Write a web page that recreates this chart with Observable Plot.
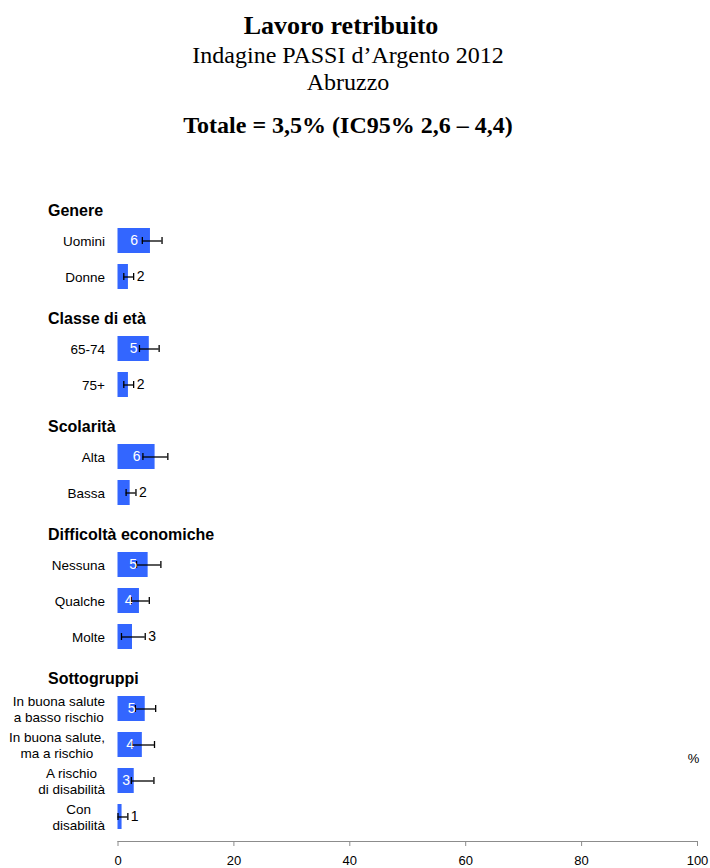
<!DOCTYPE html>
<html>
<head>
<meta charset="utf-8">
<script src="https://cdn.jsdelivr.net/npm/d3@7"></script>
<script src="https://cdn.jsdelivr.net/npm/@observablehq/plot@0.6"></script>
<style>
  html, body { margin: 0; padding: 0; background: #fff; }
  #titles { position: relative; width: 710px; height: 150px; font-family: "Liberation Serif", "Times New Roman", serif; color: #000; }
  #titles div { position: absolute; left: 0; width: 696px; text-align: center; line-height: 1; white-space: nowrap; }
  #t1 { top: 13px; font-size: 26px; font-weight: bold; width: 682px !important; }
  #t2 { top: 43px; font-size: 24px; }
  #t3 { top: 70px; font-size: 24px; }
  #t4 { top: 113px; font-size: 24px; font-weight: bold; }
  #chart svg { display: block; }
</style>
</head>
<body>
<div id="titles">
  <div id="t1">Lavoro retribuito</div>
  <div id="t2">Indagine PASSI d’Argento 2012</div>
  <div id="t3">Abruzzo</div>
  <div id="t4">Totale = 3,5% (IC95% 2,6 – 4,4)</div>
</div>
<div id="chart"></div>
<script>
// Row order of the chart (group headers and categories)
const rowOrder = [
  "Genere", "Uomini", "Donne",
  "Classe di età", "65-74", "75+",
  "Scolarità", "Alta", "Bassa",
  "Difficoltà economiche", "Nessuna", "Qualche", "Molte",
  "Sottogruppi",
  "In buona salute\na basso rischio",
  "In buona salute,\nma a rischio",
  "A rischio\ndi disabilità",
  "Con\ndisabilità"
];
const headers = ["Genere", "Classe di età", "Scolarità", "Difficoltà economiche", "Sottogruppi"];
const categories = [
  "Uomini", "Donne", "65-74", "75+", "Alta", "Bassa",
  "Nessuna", "Qualche", "Molte",
  "In buona salute\na basso rischio",
  "In buona salute,\nma a rischio",
  "A rischio\ndi disabilità",
  "Con\ndisabilità"
];
const values = [5.6, 1.8, 5.4, 1.8, 6.4, 2.1, 5.2, 3.7, 2.5, 4.7, 4.2, 2.8, 0.7];
const lower  = [4.2, 1.0, 3.7, 1.0, 4.3, 1.4, 3.2, 2.3, 0.6, 3.0, 2.4, 2.3, 0.0];
const upper  = [7.6, 2.7, 7.1, 2.7, 8.6, 3.1, 7.4, 5.4, 4.7, 6.5, 6.3, 6.2, 1.7];
const xTicks = [0, 20, 40, 60, 80, 100];
const unitLabel = "%";

const data = categories.map((c, i) => ({
  key: c, value: values[i], lo: lower[i], hi: upper[i], label: String(Math.round(values[i]))
}));
const inside = data.filter(d => d.value >= 2.8);
const outside = data.filter(d => d.value < 2.8);

const plot = Plot.plot({
  width: 710,
  height: 718,
  marginLeft: 117.5,
  marginRight: 13,
  marginTop: 29,
  marginBottom: 27,
  style: { fontFamily: "Liberation Sans, Arial, sans-serif", fontSize: "13px", color: "#000", overflow: "visible", background: "#fff" },
  x: { domain: [0, 100], axis: null },
  y: { domain: rowOrder, axis: null, paddingInner: 0.31, paddingOuter: 0.29 },
  marks: [
    Plot.frame({ anchor: "bottom", stroke: "#8c8c8c", strokeWidth: 1 }),
    Plot.axisX({ ticks: xTicks, tickSize: 5, tickPadding: 9, stroke: "#8c8c8c", fill: "#000", fontSize: 13, tickFormat: d => String(d) }),
    Plot.barX(data, { x: "value", y: "key", fill: "#3366ff" }),
    Plot.ruleY(data, { y: "key", x1: "lo", x2: "hi", stroke: "#000", strokeWidth: 1.3 }),
    Plot.tickX(data, { x: "lo", y: "key", stroke: "#000", strokeWidth: 1.3, insetTop: 9, insetBottom: 9 }),
    Plot.tickX(data, { x: "hi", y: "key", stroke: "#000", strokeWidth: 1.3, insetTop: 9, insetBottom: 9 }),
    Plot.text(inside, { x: d => d.value / 2, y: "key", text: "label", fill: "#fff", fontSize: 14 }),
    Plot.text(outside, { x: "hi", y: "key", text: "label", fill: "#000", fontSize: 14, textAnchor: "start", dx: 3 }),
    Plot.text(data, { y: "key", text: "key", frameAnchor: "left", textAnchor: "end", dx: -13, fontSize: 13.5, lineHeight: 1.18, fill: "#000" }),
    Plot.text(headers, { y: d => d, text: d => d, frameAnchor: "left", textAnchor: "start", dx: -70, dy: 6, fontSize: 16, fontWeight: "bold", fill: "#000" }),
    Plot.text([unitLabel], { text: d => d, frameAnchor: "bottom-right", textAnchor: "middle", dx: -4, dy: -79, fontSize: 13, fill: "#000" })
  ]
});
document.getElementById("chart").appendChild(plot);

// Center the lines of multi-line category labels within their block (block stays right-aligned)
plot.querySelectorAll("text").forEach(t => {
  const spans = t.querySelectorAll("tspan");
  if (spans.length < 2) return;
  if (t.getAttribute("text-anchor") !== "end" && getComputedStyle(t).textAnchor !== "end") return;
  const widths = Array.from(spans, s => s.getComputedTextLength());
  const W = Math.max(...widths);
  t.setAttribute("text-anchor", "middle");
  spans.forEach(s => {
    const x0 = parseFloat(s.getAttribute("x") || t.getAttribute("x") || "0");
    s.setAttribute("x", x0 - W / 2);
  });
});
</script>
</body>
</html>
